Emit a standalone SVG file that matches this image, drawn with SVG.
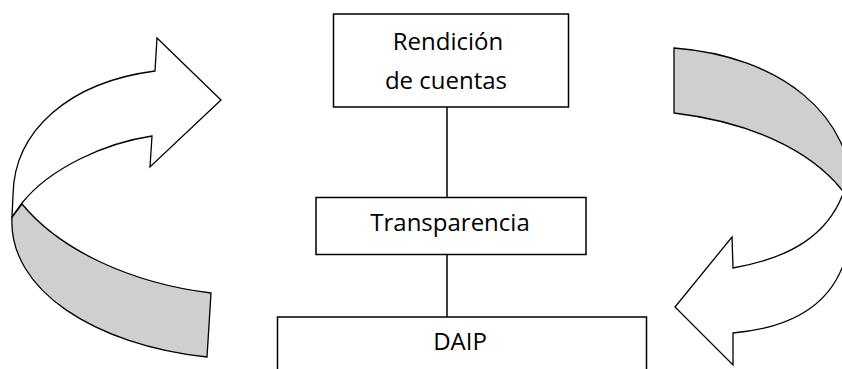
<svg xmlns="http://www.w3.org/2000/svg" width="842" height="369" viewBox="0 0 842 369">
<style>
.box{fill:#fff;stroke:#000;stroke-width:1.5}
.lbl{font-family:"Open Sans","Liberation Sans",sans-serif;font-size:24px;fill:#000;text-anchor:middle}
.edge{stroke:#000;stroke-width:1.5;fill:none}
.front{fill:#fff;stroke:#000;stroke-width:1.3;stroke-linejoin:miter}
.back{fill:#cfcfcf;stroke:#000;stroke-width:1.3}
</style>
<rect width="842" height="369" fill="#fff"/>
<g id="arrow-left">
<path class="back" d="M12,217 C8,290 95,345 207,357 L211,293 C130,283 60,250 22,204 Z"/>
<path class="front" d="M12,217 L13,195 C14,130 70,82 155,71 L157,38 L221,100 L150,167 L152,136 C105,143 50,168 22,203 Z"/>
</g>
<g id="arrow-right">
<path class="back" d="M674,48 C780,56 855,115 852,200 L845,188 L842,190 C810,150 750,122 674,113 Z"/>
<path class="front" d="M733,268 C790,258 830,235 845,188 L852,200 C855,275 825,325 733,333 L733,365 L675,307 L732,237 Z"/>
</g>
<g id="connectors">
<line class="edge" x1="447" y1="107" x2="447" y2="197"/>
<line class="edge" x1="447" y1="254" x2="447" y2="317"/>
</g>
<g id="node-rendicion">
<rect class="box" x="333.5" y="14" width="235" height="93"/>
<text class="lbl" x="448" y="50">Rendición</text>
<text class="lbl" x="446" y="89">de cuentas</text>
</g>
<g id="node-transparencia">
<rect class="box" x="316" y="197.5" width="270" height="57"/>
<text class="lbl" x="450" y="230.5">Transparencia</text>
</g>
<g id="node-daip">
<rect class="box" x="277.5" y="317" width="369" height="70"/>
<text class="lbl" x="460" y="349.5">DAIP</text>
</g>
</svg>
